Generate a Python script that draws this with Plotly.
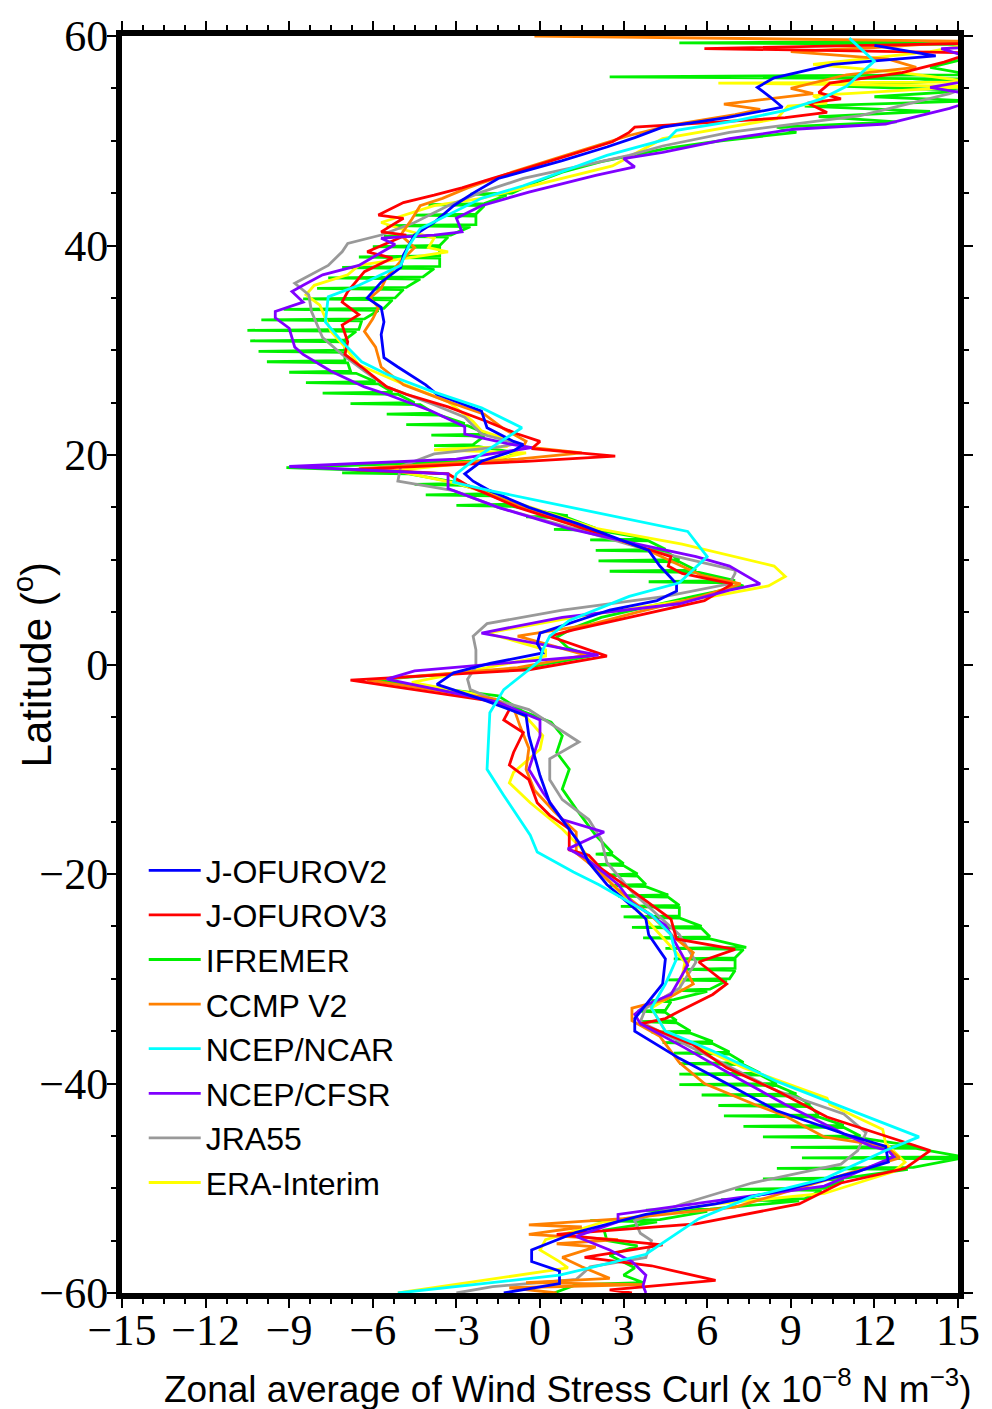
import plotly.graph_objects as go

# ---------------- data ----------------
names = ["J-OFUROV2", "J-OFUROV3", "IFREMER", "CCMP V2",
         "NCEP/NCAR", "NCEP/CFSR", "JRA55", "ERA-Interim"]
colors = ["#0000ff", "#ff0000", "#00f000", "#ff8000",
          "#00ffff", "#8000ff", "#999999", "#ffff00"]

jofv2_lat = [59.1, 58.1, 57.3, 56.0, 55.1, 54.2, 53.2, 52.2, 51.3, 50.3, 49.4, 48.1, 46.4, 45.0, 43.8, 42.2,
             41.0, 39.1, 37.9, 36.5, 35.0, 34.1, 32.7, 31.5, 29.3, 28.4, 26.7, 25.8, 24.2, 22.6, 21.3, 21.0,
             20.4, 19.4, 18.2, 17.5, 16.6, 15.0, 13.4, 12.2, 10.9, 9.4, 7.7, 7.0, 6.1, 5.2, 3.9, 3.0, 2.0,
             1.1, 0.1, -0.8, -1.9, -2.5, -3.4, -4.3, -4.9, -6.8, -8.7, -10.6, -13.2, -14.8, -17.0, -18.9,
             -21.0, -23.3, -24.3, -25.8, -28.1, -30.5, -32.5, -33.8, -35.0, -37.6, -40.0, -42.6, -44.8,
             -46.0, -47.5, -48.4, -50.1, -51.5, -52.5, -54.2, -55.9, -57.0, -57.9, -59.1, -60.0]
jofv2_val = [12.0, 14.2, 10.5, 8.4, 7.8, 8.25, 8.7, 6.7, 4.4, 3.4, 2.4, 0.8, -1.5, -2.4, -3.1, -3.8,
             -4.5, -4.9, -5.0, -5.7, -6.2, -5.7, -5.6, -5.7, -5.6, -5.1, -4.1, -3.7, -2.1, -1.9, -0.95, -0.6,
             -0.95, -2.1, -2.7, -2.4, -1.8, -0.4, 1.4, 2.6, 3.9, 4.3, 4.9, 4.9, 4.2, 2.5, 1.05, 0.0, -0.1,
             0.1, -1.8, -3.1, -3.7, -3.0, -2.0, -1.1, -0.5, -0.4, -0.2, 0.0, 0.35, 0.8, 1.4, 1.75,
             2.4, 3.4, 3.8, 3.9, 4.5, 4.4, 3.8, 3.4, 3.4, 5.0, 6.7, 8.5, 10.9,
             12.4, 12.5, 11.4, 8.9, 6.3, 3.8, 1.3, -0.3, -0.3, 0.7, 0.7, -1.3]

jofv3_lat = [60.0, 59.3, 58.8, 58.4, 57.5, 56.5, 55.5, 54.6, 54.0, 53.6, 52.7, 52.2, 51.3, 50.8, 49.9, 48.9,
             47.5, 46.4, 45.5, 44.8, 44.1, 42.9, 42.6, 41.3, 41.0, 39.4, 38.8, 37.5, 35.6, 34.6, 33.4, 32.4,
             30.8, 29.6, 28.4, 26.5, 25.8, 24.6, 23.2, 22.0, 21.3, 20.6, 19.9, 19.4, 18.6, 18.2, 17.1, 15.0,
             13.0, 11.5, 10.3, 9.4, 8.7, 7.7, 6.1, 4.6, 3.3, 2.7, 0.8, -0.5, -1.5, -3.6, -4.3, -5.3, -6.5,
             -8.4, -9.6, -11.0, -13.2, -14.4, -15.7, -17.7, -18.2, -19.5, -21.0, -24.3, -26.2, -27.2, -28.4,
             -30.5, -31.5, -33.1, -33.8, -34.3, -36.3, -38.5, -40.7, -43.2, -46.4, -48.1, -49.5, -51.5,
             -53.4, -54.4, -55.4, -56.6, -57.4, -58.8, -59.7, -60.0]
jofv3_val = [16.0, 15.5, 5.9, 15.5, 14.5, 13.0, 10.4, 10.0, 10.8, 9.6, 10.3, 8.8, 3.4, 3.2, 2.6, 1.4,
             -0.3, -1.7, -2.8, -3.8, -4.9, -5.8, -4.9, -5.7, -4.8, -6.2, -5.3, -6.3, -6.9, -7.1, -6.5, -7.1,
             -6.9, -7.0, -6.4, -5.5, -4.8, -3.3, -1.9, -0.8, 0.0, -0.3, 2.7, -0.5, -6.8, -3.3, -2.6, -0.8,
             1.5, 3.3, 4.7, 4.6, 5.1, 6.9, 5.9, 3.4, 1.2, 0.35, 2.4, -0.4, -6.8, -1.5, -1.1, -1.3, -0.6,
             -0.95, -1.1, -0.4, -0.1, 0.35, 1.05, 1.05, 1.75, 2.2, 3.0, 4.7, 4.9, 7.0, 5.7,
             6.7, 6.2, 5.0, 4.5, 3.6, 5.5, 6.7, 8.5, 10.3, 14.0, 13.1, 10.8, 9.3,
             5.6, 0.6, 4.4, 1.6, 4.0, 6.3, 2.5, 3.3]

ifremer_lat = [60.0, 59.5, 59.35, 59.2, 58.0, 57.0, 56.3, 56.1, 55.9, 55.2, 54.8, 54.2, 53.8, 53.3, 52.8, 52.3,
               51.8, 51.3, 50.8, 50.0, 49.3, 48.0, 47.0, 46.0,
               45.0, 44.9, 44.8, 44.0, 43.9, 43.8, 43.0, 42.9, 42.8, 42.0, 41.9, 41.8, 41.0, 40.9, 40.8,
               40.0, 39.9, 39.8, 39.0, 38.9, 38.8, 38.0, 37.9, 37.8, 37.0, 36.9, 36.8, 36.0, 35.9, 35.8,
               35.0, 34.9, 34.8, 34.0, 33.9, 33.8, 33.0, 32.9, 32.8, 32.0, 31.9, 31.8, 31.0, 30.9, 30.8,
               30.0, 29.9, 29.8, 29.0, 28.9, 28.8, 28.0, 27.9, 27.8, 27.0, 26.9, 26.8, 26.0, 25.9, 25.8,
               25.0, 24.9, 24.8, 24.0, 23.9, 23.8, 23.0, 22.9, 22.8, 22.0, 21.9, 21.8, 21.0, 20.9, 20.8,
               20.2, 19.5, 18.8, 18.4, 18.3, 18.2, 17.3, 17.2, 17.1, 16.3, 16.2, 16.1, 15.3, 15.2, 15.1,
               14.2, 14.1, 14.0, 13.0, 12.9, 12.8, 12.0, 11.9, 11.8, 11.0, 10.9, 10.8, 10.0, 9.9, 9.8,
               9.0, 8.9, 8.8, 8.0, 7.9, 7.8, 7.5, 6.5, 5.5, 4.5, 3.5, 2.6, 1.6, 0.8, -0.3, -1.5, -3.0,
               -4.5, -5.5, -6.8, -8.4, -10.0, -11.9, -13.8, -16.3,
               -18.0, -18.1, -18.2, -19.0, -19.1, -19.2, -20.0, -20.1, -20.2, -21.0, -21.1, -21.2,
               -22.0, -22.1, -22.2, -23.0, -23.1, -23.2, -24.0, -24.1, -24.2, -25.0, -25.1, -25.2,
               -26.0, -26.1, -26.2, -27.0, -27.1, -27.2, -28.0, -28.1, -28.2, -29.0, -29.1, -29.2,
               -30.0, -30.1, -30.2, -31.0, -31.1, -31.2, -32.0, -32.1, -32.2, -33.0, -33.1, -33.2,
               -34.0, -34.1, -34.2, -35.0, -35.1, -35.2, -36.0, -36.1, -36.2, -37.0, -37.1, -37.2,
               -38.0, -38.1, -38.2, -39.0, -39.1, -39.2, -40.0, -40.1, -40.2, -41.0, -41.1, -41.2,
               -42.0, -42.1, -42.2, -43.0, -43.1, -43.2, -44.0, -44.1, -44.2, -45.0, -45.1, -45.2,
               -46.0, -46.1, -46.2, -47.0, -47.1, -47.2, -48.0, -48.1, -48.2, -49.0, -49.1, -49.2,
               -50.0, -50.1, -50.2, -51.0, -51.1, -51.2, -52.0, -52.1, -52.2, -53.0, -53.1, -53.2,
               -54.0, -55.0, -55.5, -56.4, -57.6, -58.3, -59.0, -59.2, -60.0]
ifremer_val = [15.5, 15.5, 5.0, 15.5, 15.5, 14.0, 15.5, 2.5, 15.5, 11.0, 15.5, 12.0, 15.5, 9.5, 14.0, 10.0,
               12.8, 8.5, 9.2, 6.5, 4.6, 2.2, 0.8, -0.2,
               -1.0, -2.5, -1.2, -2.0, -4.0, -2.0, -2.3, -4.5, -2.3, -2.3, -5.5, -2.5, -3.2, -5.6, -3.3,
               -3.6, -6.0, -3.6, -3.6, -6.5, -3.6, -3.6, -7.1, -3.8, -4.2, -7.6, -4.3, -4.8, -8.0, -4.9,
               -5.2, -8.5, -5.3, -5.6, -9.2, -5.8, -6.3, -10.0, -6.4, -6.5, -10.5, -6.6, -7.0, -10.4, -7.0,
               -7.0, -10.1, -7.0, -7.0, -9.8, -6.9, -6.8, -9.0, -6.6, -5.9, -8.4, -5.8, -5.3, -7.8, -5.1,
               -4.5, -6.8, -4.3, -3.8, -5.5, -3.6, -2.7, -4.8, -2.6, -1.9, -3.9, -2.0, -2.4, -3.8, -2.2,
               -0.8, -1.5, -9.1, -4.7, -7.1, -4.7, -2.8, -4.5, -2.8, -1.6, -4.1, -1.7, -1.0, -3.0, -1.0,
               1.0, -0.5, 1.0, 2.0, 0.5, 2.1, 3.9, 1.8, 3.9, 4.5, 2.0, 4.5, 5.0, 2.1, 5.0,
               5.6, 2.5, 5.7, 7.0, 3.9, 7.0, 7.3, 5.5, 3.8, 2.2, 1.2, 0.6, 1.0, 1.8, -0.5, -6.0, -1.5,
               -0.6, 0.4, 0.8, 0.6, 1.05, 0.8, 1.3, 2.0,
               2.6, 2.0, 2.6, 3.0, 1.9, 3.0, 3.5, 2.2, 3.5, 3.8, 2.5, 3.8,
               4.6, 2.8, 4.6, 5.0, 2.9, 5.0, 5.0, 3.0, 5.0, 5.8, 3.3, 5.8,
               6.1, 3.7, 6.1, 7.4, 4.5, 7.3, 7.0, 4.8, 7.0, 7.0, 5.2, 7.0,
               6.8, 4.6, 6.7, 6.1, 4.9, 6.0, 4.8, 4.0, 4.7, 4.5, 3.5, 4.5,
               4.9, 3.6, 4.9, 5.4, 4.0, 5.4, 6.2, 4.4, 6.2, 6.8, 4.8, 6.8,
               7.3, 5.0, 7.3, 7.9, 5.0, 7.9, 8.5, 5.0, 8.5, 9.2, 5.8, 9.2,
               9.7, 6.4, 9.7, 10.0, 6.6, 10.0, 10.9, 7.3, 10.9, 11.5, 8.0, 11.5,
               13.5, 9.0, 13.5, 15.2, 9.4, 15.0, 13.4, 8.5, 13.2, 11.0, 8.0, 10.9,
               10.2, 7.0, 10.1, 9.5, 6.5, 9.3, 6.1, 3.8, 6.0, 4.3, 1.8, 4.2,
               2.3, 2.4, 3.5, 2.5, 3.4, 3.0, 3.7, 1.3, 0.5]

ccmp_lat = [60.0, 59.5, 58.9, 58.5, 57.8, 57.0, 56.3, 55.0, 54.5, 53.5, 53.0, 52.5, 51.5, 50.5, 48.5, 47.0,
            45.5, 44.5, 43.8, 42.5, 41.0, 39.8, 38.5, 37.0, 35.9, 35.0, 34.1, 33.0, 31.8, 30.3, 28.4, 26.7,
            25.1, 23.9, 22.5, 21.3, 20.8, 20.2, 19.6, 18.7, 18.2, 17.3, 15.0, 13.0, 11.0, 9.5, 8.5, 7.7,
            6.5, 5.0, 3.8, 2.7, 0.9, -0.3, -1.5, -3.3, -4.5, -6.0, -8.0, -10.0, -12.0, -14.0, -16.0,
            -18.0, -19.5, -21.5, -24.0, -26.0, -27.5, -29.0, -30.5, -32.0, -32.8, -34.0, -35.5, -38.0,
            -40.0, -42.0, -43.1, -45.1, -46.0, -47.1, -48.8, -51.8, -52.9, -53.5, -53.7, -54.4, -54.9,
            -55.3, -55.6, -56.6, -57.5, -58.6, -59.0, -59.2, -59.5, -60.0]
ccmp_val = [-0.2, 15.5, 12.0, 9.0, 12.5, 13.5, 11.0, 9.0, 9.8, 6.6, 7.9, 7.0, 4.7, 3.2, 0.8, -1.0,
            -2.6, -3.5, -4.3, -4.6, -5.0, -4.5, -5.0, -5.5, -5.7, -6.1, -5.8, -6.0, -6.3, -5.9, -5.7, -4.9,
            -3.3, -2.0, -1.3, -0.5, -0.6, 1.5, -0.8, -6.5, -3.3, -2.8, -0.6, 1.6, 3.8, 5.0, 5.8, 7.2,
            5.8, 3.5, 1.8, -0.8, 1.65, -0.8, -6.2, -1.6, -0.9, -0.7, -0.4, -0.5, -0.2, 0.5, 1.3,
            1.3, 2.0, 2.8, 4.0, 4.8, 5.5, 5.2, 5.5, 4.5, 3.3, 3.3, 4.3, 5.0,
            5.9, 7.7, 8.8, 10.2, 12.4, 12.9, 10.8, 7.0, 3.0, -0.4, 1.5, -0.4, 2.8,
            0.6, 2.0, 0.8, 1.5, 2.5, -0.5, 3.7, -1.1, 0.6]

ncar_lat = [59.8, 57.6, 55.2, 54.0, 52.9, 51.9, 51.0, 50.2, 48.6, 45.7, 44.5, 42.9, 41.6, 40.0, 38.1, 37.2,
            36.2, 35.1, 32.7, 30.8, 28.9, 27.7, 26.1, 24.5, 22.6, 21.3, 20.1, 18.2, 17.4, 16.6, 12.7, 10.3,
            7.8, 6.5, 4.2, 2.7, 1.4, 0.4, -0.5, -2.4, -4.6, -10.0, -12.5, -16.3, -17.9, -19.8, -21.0,
            -23.9, -25.8, -28.1, -30.5, -32.8, -35.0, -36.9, -39.8, -42.3, -45.1, -46.4, -49.1, -50.8,
            -52.9, -56.3, -58.3, -60.0]
ncar_val = [11.1, 12.0, 11.0, 10.1, 8.8, 7.0, 4.9, 4.6, 2.4, -0.6, -2.1, -3.3, -4.3, -4.7, -5.0, -5.7,
            -6.5, -7.6, -7.7, -7.1, -6.4, -5.5, -3.9, -2.1, -0.65, -1.4, -2.1, -3.0, -3.1, -1.8, 5.3, 6.0,
            5.0, 3.2, 1.05, 0.35, 0.1, 0.0, -0.4, -1.3, -1.8, -1.9, -1.3, -0.35, -0.1, 1.2, 2.1,
            4.0, 4.7, 4.9, 4.5, 4.0, 4.5, 6.2, 8.5, 10.9, 13.6, 12.4, 10.2, 7.6,
            5.7, 3.8, 0.7, -5.1]

cfsr_lat = [60.0, 59.0, 58.8, 57.5, 56.0, 55.1, 54.2, 53.1, 51.6, 51.1, 50.2, 48.9, 48.3, 47.5, 46.7, 45.1,
            43.8, 42.6, 41.3, 41.0, 40.7, 40.1, 38.1, 37.2, 36.2, 35.6, 34.6, 33.7, 33.1, 32.1, 30.3, 29.6,
            28.0, 26.5, 25.8, 24.2, 22.7, 22.0, 21.1, 20.7, 19.6, 18.9, 18.2, 16.8, 15.0, 13.0, 11.5, 10.3,
            9.4, 7.7, 7.1, 5.8, 4.5, 3.0, 0.9, -0.6, -1.4, -3.6, -5.3, -6.8, -10.0, -12.2, -14.8, -16.0,
            -17.6, -18.5, -21.0, -22.7, -24.9, -25.8, -28.7, -31.5, -32.5, -33.4, -34.3, -36.6, -39.5,
            -42.0, -44.8, -46.0, -46.4, -47.0, -48.0, -49.8, -51.2, -52.5, -53.2, -54.6, -55.9, -57.0,
            -58.3, -59.3, -60.0]
cfsr_val = [16.0, 16.0, 14.4, 16.0, 16.0, 14.0, 16.0, 14.7, 12.4, 9.1, 6.8, 4.4, 3.0, 3.4, 2.0, -0.4,
            -2.1, -3.0, -2.8, -3.8, -5.7, -5.2, -6.5, -7.8, -8.5, -8.9, -8.5, -9.5, -9.5, -9.0, -8.8, -8.5,
            -7.5, -6.3, -5.5, -3.9, -2.7, -2.7, -1.2, -0.3, -3.0, -9.0, -3.3, -3.3, -1.5, 1.0, 3.5, 5.6,
            6.8, 7.9, 6.8, 5.0, 0.8, -2.1, 2.1, -4.5, -5.5, -1.5, 0.0, 0.0, -0.4, 0.1, 0.8, 2.3,
            1.0, 1.65, 2.8, 3.3, 4.5, 4.7, 5.3, 4.7, 3.8, 3.4, 3.6, 5.2, 7.1,
            8.8, 10.9, 11.9, 12.5, 12.7, 11.8, 10.2, 6.3, 2.8, 2.8, 1.3, 2.5, 3.3,
            3.8, 3.7, 3.8]

jra_lat = [58.0, 55.0, 54.5, 52.4, 50.8, 49.5, 48.6, 46.4, 45.1, 43.8, 42.2, 41.0, 40.2, 39.4, 38.1, 36.4,
           35.3, 33.7, 31.2, 29.6, 28.0, 26.5, 24.8, 23.6, 22.0, 21.1, 20.8, 20.1, 18.9, 17.5, 16.6, 15.0,
           13.0, 11.0, 9.0, 8.7, 7.7, 6.5, 5.2, 3.9, 2.7, 1.4, -0.2, -1.4, -2.4, -3.3, -4.3, -7.4, -9.0,
           -11.0, -12.9, -14.8, -16.7, -18.9, -21.7, -25.8, -28.4, -30.9, -32.8, -34.1, -37.6, -40.7,
           -42.9, -44.7, -46.4, -47.7, -49.5, -51.5, -53.1, -54.3, -55.0, -56.6, -57.5, -58.7, -59.4, -60.0]
jra_val = [17.0, 15.2, 14.7, 11.5, 6.8, 4.4, 3.2, -0.6, -2.1, -3.3, -4.5, -5.7, -6.9, -7.1, -7.6, -8.8,
           -8.3, -8.2, -7.8, -7.1, -6.3, -5.5, -3.8, -2.7, -2.1, -0.8, -1.4, -3.8, -5.0, -5.1, -3.1, -1.5,
           1.2, 3.8, 7.0, 7.0, 6.8, 4.5, 0.8, -1.9, -2.4, -2.3, -2.3, -2.6, -2.5, -1.7, -0.4, 1.4, 0.35,
           0.35, 0.8, 1.75, 2.2, 2.4, 3.3, 5.0, 5.6, 5.0, 3.8, 3.6, 6.2, 8.5,
           10.9, 11.7, 11.4, 10.8, 7.6, 5.1, 3.4, 3.6, 4.0, 3.8, 1.8, 1.3, -1.7, -3.0]

era_lat = [59.5, 58.5, 57.3, 56.5, 55.6, 55.5, 55.2, 54.3, 53.6, 53.3, 52.1, 50.2, 47.6, 44.5, 43.8, 42.2,
           41.6, 40.7, 39.8, 39.4, 38.1, 37.2, 36.2, 35.3, 34.3, 31.8, 30.3, 28.6, 27.0, 25.1, 23.2, 22.3,
           21.3, 20.8, 20.5, 20.2, 19.4, 18.5, 17.3, 15.0, 13.0, 11.5, 9.4, 8.4, 7.5, 6.5, 4.6, 3.0, 1.4,
           0.8, -1.7, -3.0, -5.0, -6.8, -8.1, -10.3, -11.3, -13.2, -15.7, -17.6, -21.0, -24.3, -28.4,
           -31.2, -32.8, -35.0, -38.5, -41.4, -42.0, -44.4, -45.7, -47.5, -48.4, -50.5, -51.5, -53.2,
           -54.9, -55.9, -57.0, -57.6, -60.0]
era_val = [16.0, 14.0, 9.8, 13.0, 15.5, 6.4, 15.5, 9.8, 10.3, 8.9, 8.5, 4.4, 2.6, -2.1, -3.8, -5.7,
           -5.0, -3.8, -4.0, -3.3, -6.5, -6.9, -8.1, -8.4, -7.9, -7.5, -7.0, -6.5, -5.1, -3.3, -2.4, -2.1,
           -0.95, -1.2, -3.8, -0.5, -2.0, -5.2, -3.0, -0.3, 2.0, 5.1, 8.4, 8.8, 8.2, 6.2, 1.4, -1.9, 0.2,
           0.2, -4.6, -2.0, -0.5, 0.1, 0.0, -0.95, -1.1, -0.35, 0.8, 1.5, 2.6, 3.8, 5.2,
           5.0, 4.0, 4.5, 7.3, 10.3, 10.4, 12.3, 12.4, 13.1, 12.7, 10.2, 6.3, 2.3,
           0.2, 0.0, 0.7, 1.0, -5.1]

series = {
    "J-OFUROV2": (jofv2_lat, jofv2_val),
    "J-OFUROV3": (jofv3_lat, jofv3_val),
    "IFREMER": (ifremer_lat, ifremer_val),
    "CCMP V2": (ccmp_lat, ccmp_val),
    "NCEP/NCAR": (ncar_lat, ncar_val),
    "NCEP/CFSR": (cfsr_lat, cfsr_val),
    "JRA55": (jra_lat, jra_val),
    "ERA-Interim": (era_lat, era_val),
}

# drawing order (bottom -> top); legend keeps the original order via legendrank
draw_order = ["IFREMER", "ERA-Interim", "JRA55", "CCMP V2", "J-OFUROV3",
              "NCEP/CFSR", "J-OFUROV2", "NCEP/NCAR"]

fig = go.Figure()
for nm in draw_order:
    i = names.index(nm)
    lat, val = series[nm]
    fig.add_trace(go.Scatter(
        x=val, y=lat, mode="lines", name=nm,
        line=dict(color=colors[i], width=2.8),
        legendrank=i + 1,
    ))

axis_common = dict(
    showline=True, linecolor="black", linewidth=6, mirror="allticks",
    ticks="outside", ticklen=9, tickwidth=2, tickcolor="black",
    showgrid=False, zeroline=False,
    tickfont=dict(family="Liberation Serif", size=44, color="black"),
)

fig.update_xaxes(range=[-15, 15], tick0=-15, dtick=3, ticklabelstandoff=-16,
                 minor=dict(dtick=0.75, ticklen=5, tickwidth=2, tickcolor="black", ticks="outside"),
                 **axis_common)
fig.update_yaxes(range=[-60, 60], tick0=-60, dtick=20, ticklabelstandoff=-10,
                 minor=dict(dtick=5, ticklen=5, tickwidth=2, tickcolor="black", ticks="outside"),
                 **axis_common)

fig.update_layout(
    width=992, height=1409,
    margin=dict(l=122, r=24, t=27, b=116),
    paper_bgcolor="white", plot_bgcolor="white",
    showlegend=True,
    legend=dict(x=0.026, y=0.358, xanchor="left", yanchor="top",
                bgcolor="rgba(0,0,0,0)", borderwidth=0,
                font=dict(family="Liberation Sans", size=32, color="black"),
                itemwidth=52, tracegroupgap=0),
    annotations=[
        dict(text="Zonal average of Wind Stress Curl (x 10<sup>\u22128</sup> N m<sup>\u22123</sup>)",
             xref="paper", yref="paper", x=0.534, y=-0.0745, xanchor="center", yanchor="middle",
             showarrow=False, font=dict(family="Liberation Sans", size=37, color="black")),
        dict(text="Latitude (<sup>o</sup>)", textangle=-90,
             xref="paper", yref="paper", x=-0.1065, y=0.5, xanchor="center", yanchor="middle",
             showarrow=False, font=dict(family="Liberation Sans", size=42, color="black")),
    ],
)

fig.write_html("out.html")
